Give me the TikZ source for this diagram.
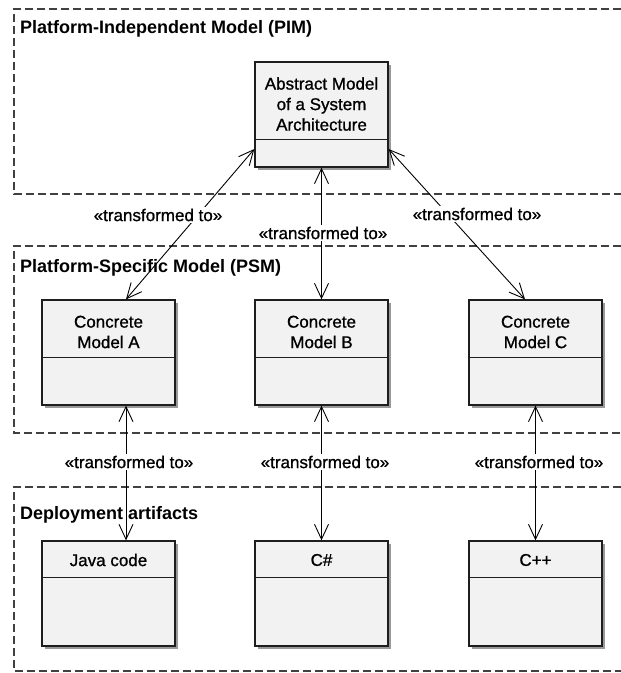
\documentclass[tikz,border=0pt]{standalone}
\usepackage{fontspec}
\setmainfont{Liberation Sans}
\newfontfamily\heavyfont{Liberation Sans}[FakeBold=1]
\usetikzlibrary{arrows.meta,shadows}

\definecolor{boxfill}{HTML}{F2F2F2}
\definecolor{boxline}{HTML}{1E1E1E}
\definecolor{frameline}{HTML}{404040}

\begin{document}
\begin{tikzpicture}[x=1pt,y=-1pt,
  frame/.style={draw=frameline, line width=1.6pt, dash pattern=on 8pt off 4pt},
  pkglabel/.style={anchor=base west, inner sep=0pt, font=\fontsize{18}{20}\selectfont\bfseries},
  classbox/.style={draw=boxline, fill=boxfill, line width=1.3pt,
    minimum width=133pt, minimum height=105pt, inner sep=0pt,
    general shadow={fill=black!40, shadow xshift=3pt, shadow yshift=-3pt}},
  compline/.style={draw=boxline, line width=1.3pt},
  boxtext/.style={align=center, inner sep=0pt, font=\heavyfont\fontsize{17}{20.5}\selectfont},
  stereo/.style={fill=white, inner sep=1.5pt, font=\heavyfont\fontsize{17}{20}\selectfont},
  rel/.style={draw=black, line width=0.9pt,
    {Straight Barb[length=15pt,width=14pt]}-{Straight Barb[length=15pt,width=14pt]}}
]
\useasboundingbox (0,0) rectangle (621,673);

% package frames (open to the right)
\draw[frame] (621,9) -- (14,9) -- (14,194) -- (621,194);
\draw[frame] (621,246) -- (14,246) -- (14,433) -- (621,433);
\draw[frame] (621,487) -- (14,487) -- (14,671) -- (621,671);

\node[pkglabel] (pim) at (20,33) {Platform-Independent Model (PIM)};
\node[pkglabel] (psm) at (20,272) {Platform-Specific Model (PSM)};
\node[pkglabel] (dep) at (20,519) {Deployment artifacts};

% class boxes
\node[classbox] (abs) at (321.5,114.5) {};
\node[classbox] (ca) at (108.5,352.5) {};
\node[classbox] (cb) at (321.5,352.5) {};
\node[classbox] (cc) at (535.5,352.5) {};
\node[classbox] (java) at (108.5,593.5) {};
\node[classbox] (csharp) at (321.5,593.5) {};
\node[classbox] (cpp) at (535.5,593.5) {};

% compartment separators
\draw[compline] ([yshift=-78pt]abs.north west) -- ([yshift=-78pt]abs.north east);
\foreach \b in {ca,cb,cc}
  \draw[compline] ([yshift=-58pt]\b.north west) -- ([yshift=-58pt]\b.north east);
\foreach \b in {java,csharp,cpp}
  \draw[compline] ([yshift=-37pt]\b.north west) -- ([yshift=-37pt]\b.north east);

% class names
\node[boxtext] (tabs) at (321.5,104) {Abstract Model\\of a System\\Architecture};
\node[boxtext] (tca) at (108.5,332) {Concrete\\Model A};
\node[boxtext] (tcb) at (321.5,332) {Concrete\\Model B};
\node[boxtext] (tcc) at (535.5,332) {Concrete\\Model C};
\node[boxtext] (tjava) at (108.5,560) {Java code};
\node[boxtext] (tcs) at (321.5,560) {C\#};
\node[boxtext] (tcpp) at (535.5,560) {C++};

% transformation links
\draw[rel] ([yshift=-34.5pt]abs.west) -- ([xshift=17.5pt]ca.north);
\draw[rel] (abs.south) -- (cb.north);
\draw[rel] ([yshift=-34.5pt]abs.east) -- ([xshift=-10.5pt]cc.north);
\draw[rel] ([xshift=17.5pt]ca.south) -- ([xshift=17.5pt]java.north);
\draw[rel] (cb.south) -- (csharp.north);
\draw[rel] (cc.south) -- (cpp.north);

% stereotypes
\node[stereo] (s1) at (158,215) {«transformed to»};
\node[stereo] (s2) at (323,233) {«transformed to»};
\node[stereo] (s3) at (477,214) {«transformed to»};
\node[stereo] (s4) at (129,462) {«transformed to»};
\node[stereo] (s5) at (325,462) {«transformed to»};
\node[stereo] (s6) at (539,462) {«transformed to»};
\end{tikzpicture}
\end{document}
